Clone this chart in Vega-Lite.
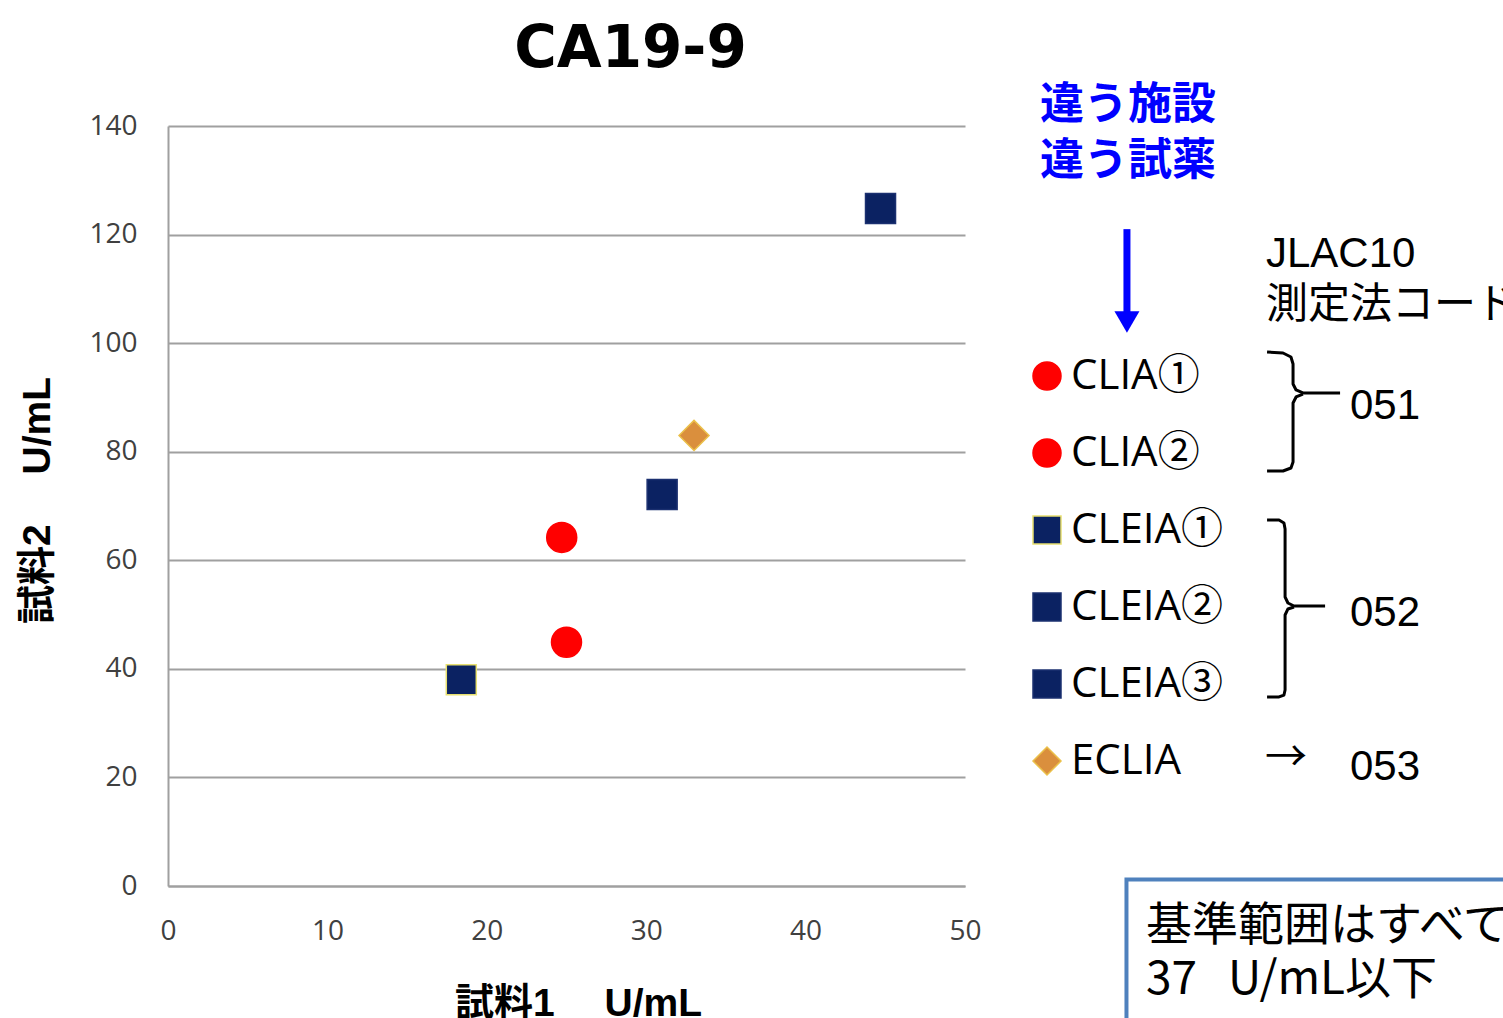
{
  "$schema": "https://vega.github.io/schema/vega-lite/v6.json",
  "width": 797,
  "height": 760,
  "autosize": {"type": "none"},
  "padding": {"left": 168, "top": 126, "right": 538, "bottom": 132},
  "background": "white",
  "title": {
    "text": "CA19-9",
    "frame": "group",
    "anchor": "middle",
    "dx": 64,
    "dy": 57,
    "offset": 16,
    "baseline": "alphabetic",
    "font": "DejaVu Sans",
    "fontSize": 58,
    "fontWeight": "bold",
    "color": "#000000"
  },
  "datasets": {
    "points": [
      {"method": "CLIA①", "sample1": 24.7, "sample2": 64.2},
      {"method": "CLIA②", "sample1": 25.0, "sample2": 44.9},
      {"method": "CLEIA①", "sample1": 18.4, "sample2": 38.0},
      {"method": "CLEIA②", "sample1": 31.0, "sample2": 72.1},
      {"method": "CLEIA③", "sample1": 44.7, "sample2": 124.8},
      {"method": "ECLIA", "sample1": 33.0, "sample2": 83.0}
    ],
    "headline": [
      {"text": "違う施設", "x": 54.7, "y": 143.7},
      {"text": "違う試薬", "x": 54.7, "y": 133.4}
    ],
    "codes": [
      {"text": "JLAC10", "x": 68.88, "y": 116.51},
      {"text": "測定法コード", "x": 68.88, "y": 106.95},
      {"text": "051", "x": 74.15, "y": 88.33},
      {"text": "052", "x": 74.15, "y": 50.38},
      {"text": "053", "x": 74.15, "y": 22.01}
    ],
    "pointer": [
      {"text": "→", "x": 68.82, "y": 23.6}
    ],
    "note": [
      {"text": "基準範囲はすべて", "x": 61.35, "y": -7.37},
      {"text": "37\u00a0\u00a0\u00a0U/mL以下", "x": 61.35, "y": -17.32}
    ],
    "noteBox": [
      {"x": 60.13, "x2": 88.0, "y": 1.2, "y2": -32.0}
    ],
    "arrow": [
      {"x": 60.16, "y": 121.0, "y2": 105.7}
    ],
    "arrowHead": [
      {"x": 60.16, "y": 103.9}
    ],
    "braces": [
      {"part": "051-upper", "seq": 1, "x": 68.95, "y": 98.37},
      {"part": "051-upper", "seq": 2, "x": 69.95, "y": 98.18},
      {"part": "051-upper", "seq": 3, "x": 70.45, "y": 97.45},
      {"part": "051-upper", "seq": 4, "x": 70.58, "y": 96.16},
      {"part": "051-upper", "seq": 5, "x": 70.58, "y": 92.47},
      {"part": "051-upper", "seq": 6, "x": 70.77, "y": 91.37},
      {"part": "051-upper", "seq": 7, "x": 71.2, "y": 90.82},
      {"part": "051-upper", "seq": 8, "x": 73.53, "y": 90.82},
      {"part": "051-lower", "seq": 1, "x": 71.2, "y": 90.63},
      {"part": "051-lower", "seq": 2, "x": 70.77, "y": 90.08},
      {"part": "051-lower", "seq": 3, "x": 70.58, "y": 88.97},
      {"part": "051-lower", "seq": 4, "x": 70.58, "y": 78.11},
      {"part": "051-lower", "seq": 5, "x": 70.45, "y": 77.0},
      {"part": "051-lower", "seq": 6, "x": 69.95, "y": 76.45},
      {"part": "051-lower", "seq": 7, "x": 68.95, "y": 76.45},
      {"part": "052-upper", "seq": 1, "x": 68.95, "y": 67.42},
      {"part": "052-upper", "seq": 2, "x": 69.7, "y": 67.42},
      {"part": "052-upper", "seq": 3, "x": 70.01, "y": 66.87},
      {"part": "052-upper", "seq": 4, "x": 70.08, "y": 65.76},
      {"part": "052-upper", "seq": 5, "x": 70.08, "y": 53.24},
      {"part": "052-upper", "seq": 6, "x": 70.26, "y": 52.13},
      {"part": "052-upper", "seq": 7, "x": 70.64, "y": 51.58},
      {"part": "052-upper", "seq": 8, "x": 72.59, "y": 51.58},
      {"part": "052-lower", "seq": 1, "x": 70.64, "y": 51.4},
      {"part": "052-lower", "seq": 2, "x": 70.26, "y": 51.03},
      {"part": "052-lower", "seq": 3, "x": 70.08, "y": 49.92},
      {"part": "052-lower", "seq": 4, "x": 70.08, "y": 36.11},
      {"part": "052-lower", "seq": 5, "x": 70.01, "y": 35.18},
      {"part": "052-lower", "seq": 6, "x": 69.7, "y": 34.82},
      {"part": "052-lower", "seq": 7, "x": 68.95, "y": 34.82}
    ]
  },
  "config": {
    "view": {"stroke": null},
    "axisX": {
      "grid": false,
      "domain": true,
      "domainColor": "#A0A0A0",
      "domainWidth": 2,
      "ticks": false,
      "tickSize": 0,
      "labelFlush": false,
      "labelPadding": 31,
      "labelFont": "Open Sans",
      "labelFontSize": 28,
      "labelColor": "#404040",
      "titleFont": "Liberation Sans, Noto Sans CJK JP",
      "titleFontSize": 39,
      "titleFontWeight": "bold",
      "titleColor": "#000000",
      "titlePadding": 39,
      "titleX": 410
    },
    "axisY": {
      "grid": true,
      "gridColor": "#A0A0A0",
      "gridWidth": 2,
      "domain": true,
      "domainColor": "#A0A0A0",
      "domainWidth": 2,
      "ticks": false,
      "tickSize": 0,
      "labelFlush": false,
      "labelPadding": 31,
      "labelFont": "Open Sans",
      "labelFontSize": 28,
      "labelColor": "#404040",
      "titleFont": "Liberation Sans, Noto Sans CJK JP",
      "titleFontSize": 39,
      "titleFontWeight": "bold",
      "titleColor": "#000000",
      "titlePadding": 31,
      "titleY": 374
    }
  },
  "layer": [
    {
      "data": {"name": "points"},
      "mark": {"type": "point", "filled": true, "opacity": 1, "size": 900, "strokeWidth": 1.5},
      "encoding": {
        "x": {
          "field": "sample1",
          "type": "quantitative",
          "title": "試料1　 U/mL",
          "scale": {"domain": [0, 50], "nice": false, "zero": false},
          "axis": {"values": [0, 10, 20, 30, 40, 50]}
        },
        "y": {
          "field": "sample2",
          "type": "quantitative",
          "title": "試料2　 U/mL",
          "scale": {"domain": [0, 140], "nice": false, "zero": false},
          "axis": {"values": [0, 20, 40, 60, 80, 100, 120, 140]}
        },
        "fill": {
          "field": "method",
          "type": "nominal",
          "scale": {
            "domain": ["CLIA①", "CLIA②", "CLEIA①", "CLEIA②", "CLEIA③", "ECLIA"],
            "range": ["#FF0000", "#FF0000", "#0B2262", "#0B2262", "#0B2262", "#DA8F3D"]
          },
          "legend": {
            "orient": "none", "legendX": 858, "legendY": 229, "title": null,
            "labelFont": "Open Sans, Noto Sans CJK JP", "labelFontSize": 42, "labelColor": "#000000",
            "symbolSize": 784, "rowPadding": 35, "labelOffset": 3, "padding": 0, "symbolStrokeWidth": 1.5
          }
        },
        "stroke": {
          "field": "method",
          "type": "nominal",
          "scale": {
            "domain": ["CLIA①", "CLIA②", "CLEIA①", "CLEIA②", "CLEIA③", "ECLIA"],
            "range": ["#FF0000", "#FF0000", "#E8E070", "#1B3070", "#1B3070", "#EBC04A"]
          },
          "legend": {
            "orient": "none", "legendX": 858, "legendY": 229, "title": null,
            "labelFont": "Open Sans, Noto Sans CJK JP", "labelFontSize": 42, "labelColor": "#000000",
            "symbolSize": 784, "rowPadding": 35, "labelOffset": 3, "padding": 0, "symbolStrokeWidth": 1.5
          }
        },
        "shape": {
          "field": "method",
          "type": "nominal",
          "scale": {
            "domain": ["CLIA①", "CLIA②", "CLEIA①", "CLEIA②", "CLEIA③", "ECLIA"],
            "range": ["circle", "circle", "square", "square", "square", "diamond"]
          },
          "legend": {
            "orient": "none", "legendX": 858, "legendY": 229, "title": null,
            "labelFont": "Open Sans, Noto Sans CJK JP", "labelFontSize": 42, "labelColor": "#000000",
            "symbolSize": 784, "rowPadding": 35, "labelOffset": 3, "padding": 0, "symbolStrokeWidth": 1.5
          }
        }
      }
    },
    {
      "data": {"name": "noteBox"},
      "mark": {"type": "rect", "fill": "#FFFFFF", "stroke": "#4F81BD", "strokeWidth": 4},
      "encoding": {
        "x": {"field": "x", "type": "quantitative", "title": "試料1　 U/mL"},
        "x2": {"field": "x2", "title": "試料1　 U/mL"},
        "y": {"field": "y", "type": "quantitative", "title": "試料2　 U/mL"},
        "y2": {"field": "y2", "title": "試料2　 U/mL"}
      }
    },
    {
      "data": {"name": "braces"},
      "mark": {"type": "line", "color": "#000000", "strokeWidth": 3, "strokeJoin": "round", "strokeCap": "butt"},
      "encoding": {
        "x": {"field": "x", "type": "quantitative", "title": "試料1　 U/mL"},
        "y": {"field": "y", "type": "quantitative", "title": "試料2　 U/mL"},
        "detail": {"field": "part", "type": "nominal"},
        "order": {"field": "seq", "type": "quantitative"}
      }
    },
    {
      "data": {"name": "arrow"},
      "mark": {"type": "rule", "color": "#0000FF", "strokeWidth": 7, "strokeCap": "butt"},
      "encoding": {
        "x": {"field": "x", "type": "quantitative", "title": "試料1　 U/mL"},
        "y": {"field": "y", "type": "quantitative", "title": "試料2　 U/mL"},
        "y2": {"field": "y2", "title": "試料2　 U/mL"}
      }
    },
    {
      "data": {"name": "arrowHead"},
      "mark": {"type": "point", "shape": "triangle-down", "filled": true, "fill": "#0000FF", "opacity": 1, "size": 625, "strokeWidth": 0},
      "encoding": {
        "x": {"field": "x", "type": "quantitative", "title": "試料1　 U/mL"},
        "y": {"field": "y", "type": "quantitative", "title": "試料2　 U/mL"}
      }
    },
    {
      "data": {"name": "headline"},
      "mark": {"type": "text", "align": "left", "baseline": "middle", "font": "Noto Sans CJK JP", "fontSize": 44, "fontWeight": "bold", "color": "#0000FF"},
      "encoding": {
        "x": {"field": "x", "type": "quantitative", "title": "試料1　 U/mL"},
        "y": {"field": "y", "type": "quantitative", "title": "試料2　 U/mL"},
        "text": {"field": "text"}
      }
    },
    {
      "data": {"name": "codes"},
      "mark": {"type": "text", "align": "left", "baseline": "middle", "font": "Liberation Sans, Noto Sans CJK JP", "fontSize": 42, "color": "#000000"},
      "encoding": {
        "x": {"field": "x", "type": "quantitative", "title": "試料1　 U/mL"},
        "y": {"field": "y", "type": "quantitative", "title": "試料2　 U/mL"},
        "text": {"field": "text"}
      }
    },
    {
      "data": {"name": "pointer"},
      "mark": {"type": "text", "align": "left", "baseline": "middle", "font": "Noto Sans CJK JP", "fontSize": 42, "color": "#000000"},
      "encoding": {
        "x": {"field": "x", "type": "quantitative", "title": "試料1　 U/mL"},
        "y": {"field": "y", "type": "quantitative", "title": "試料2　 U/mL"},
        "text": {"field": "text"}
      }
    },
    {
      "data": {"name": "note"},
      "mark": {"type": "text", "align": "left", "baseline": "middle", "font": "Noto Sans CJK JP", "fontSize": 46, "color": "#000000"},
      "encoding": {
        "x": {"field": "x", "type": "quantitative", "title": "試料1　 U/mL"},
        "y": {"field": "y", "type": "quantitative", "title": "試料2　 U/mL"},
        "text": {"field": "text"}
      }
    }
  ]
}
